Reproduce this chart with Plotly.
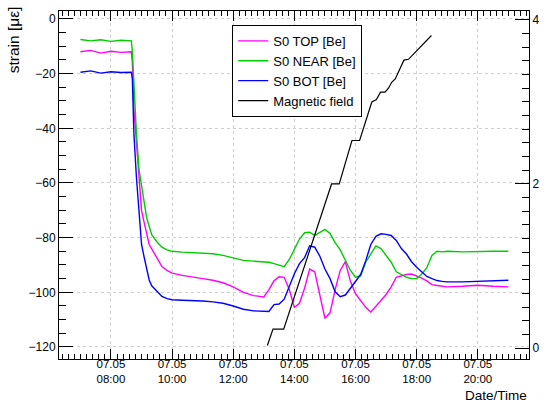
import plotly.graph_objects as go

DATE = "2016-05-07 "

# common sampling times (HH:MM) for the three strain gauges
times = ["07:00", "07:20", "07:40", "08:00", "08:20", "08:40",
         "08:42", "08:45", "08:50", "08:55", "09:00", "09:05", "09:10", "09:15", "09:20",
         "09:30", "09:40", "09:50", "10:00", "10:20", "10:40", "11:00", "11:20", "11:40",
         "12:00", "12:20", "12:40",
         "13:00", "13:10", "13:20", "13:30", "13:40", "13:50",
         "14:00", "14:10", "14:20", "14:30", "14:40", "14:50",
         "15:00", "15:10", "15:20", "15:30", "15:40", "15:50",
         "16:00", "16:10", "16:20", "16:30", "16:40", "16:50",
         "17:00", "17:10", "17:20", "17:30", "17:40", "17:50",
         "18:00", "18:10", "18:20", "18:30", "18:40", "18:50",
         "19:00", "19:30", "20:00", "20:30", "21:00"]

top = [-12, -11.5, -12.5, -11.8, -12.2, -12,
       -16, -33, -45, -57, -70, -74.3, -78.6, -82.5, -84.1,
       -87.3, -90.6, -92, -93, -93.8, -94.5, -95, -95.6, -96.5,
       -98, -100, -101.2,
       -101.7, -99.0, -95.8, -94.3, -94.5, -99.0,
       -105.5, -104.0, -98.5, -91.5, -92.5, -101.0,
       -109.5, -107.5, -99.0, -92.0, -88.8, -96.0,
       -100.5, -103.0, -105.5, -107.2, -105.2, -103.0,
       -100.8, -98.0, -94.5, -94.0, -93.5, -93.3,
       -94.0, -94.8, -95.8, -97.2, -97.5, -97.8,
       -98.0, -97.8, -97.4, -97.8, -98.0]

near = [-7.5, -8, -7.6, -8.2, -7.8, -8,
        -12, -25, -42, -55, -61.5, -67.5, -72.7, -75.9, -78.9,
        -81.5, -83.5, -84.5, -85, -85.3, -85.5, -85.6, -85.9, -86.5,
        -87.5, -88.3, -88.6,
        -88.8, -89.0, -89.5, -90.0, -90.6, -88.0,
        -84.5, -80.5, -78.2, -78.0, -79.2, -78.0,
        -77.0, -78.5, -81.8, -84.5, -88.5, -92.0,
        -94.5, -94.0, -89.0, -86.0, -83.0, -84.0,
        -86.5, -89.0, -92.5, -93.5, -94.5, -95.0,
        -95.0, -93.3, -91.0, -86.5, -85.0, -85.2,
        -85.0, -85.2, -85.0, -85.0, -85.0]

bot = [-19.5, -19, -19.8, -19.3, -19.6, -19.5,
       -22, -42, -58, -72, -82.5, -87, -91.6, -95.5, -97.6,
       -99.6, -101.5, -102.3, -102.7, -102.9, -103, -103.2, -103.5, -104,
       -105, -106.2, -106.8,
       -107.1, -107.0, -104.5, -104.3, -102.5, -98.0,
       -93.2, -89.5, -87.3, -83.0, -83.5, -86.8,
       -91.5, -95.0, -99.8, -101.6, -101.0, -98.5,
       -96.2, -93.5, -88.5, -82.5, -79.5, -78.6,
       -78.8, -79.2, -81.0, -84.0, -86.0, -88.8,
       -90.8, -92.5, -94.2, -95.0, -95.7, -96.0,
       -96.2, -96.2, -96.0, -95.6, -95.6]

mag_times = ["13:07", "13:18", "13:39", "15:13", "15:28", "15:53", "16:08", "16:32",
             "16:41", "16:49", "16:58", "17:05", "17:11", "17:18", "17:35", "17:44", "18:29"]
mag_field = [0.03, 0.23, 0.23, 2.0, 2.0, 2.53, 2.53, 3.0,
             3.03, 3.12, 3.12, 3.17, 3.24, 3.28, 3.51, 3.52, 3.81]

series = [("S0 TOP [Be]", top, "#ff00ff"),
          ("S0 NEAR [Be]", near, "#00cc00"),
          ("S0 BOT [Be]", bot, "#0000ff")]

fig = go.Figure()
for name, vals, col in series:
    fig.add_trace(go.Scatter(x=[DATE + t for t in times], y=vals, name=name, mode="lines",
                             line=dict(color=col, width=1.4)))
fig.add_trace(go.Scatter(x=[DATE + t for t in mag_times], y=mag_field, name="Magnetic field",
                         mode="lines", yaxis="y2", line=dict(color="black", width=1.2)))

grid = dict(showgrid=True, gridcolor="#cfcfcf", griddash="3px,3px", gridwidth=1)

fig.update_layout(
    width=549, height=402,
    margin=dict(l=59, r=16, t=10, b=43),
    paper_bgcolor="white", plot_bgcolor="white",
    font=dict(family="Liberation Sans, Arial, sans-serif", size=12, color="black"),
    showlegend=True,
    legend=dict(x=0.3686, y=0.96, xanchor="left", yanchor="top", bgcolor="white",
                bordercolor="black", borderwidth=1, font=dict(size=13),
                itemwidth=30, tracegroupgap=0),
    xaxis=dict(type="date", range=[DATE + "06:18:00", DATE + "21:40:30"],
               tick0=DATE + "00:00", dtick=7200000, tickformat="%d.%m<br>%H:%M",
               tickfont=dict(size=11.5),
               ticks="inside", ticklen=10, tickcolor="black", ticklabelstandoff=-6,
               showline=True, linecolor="black", linewidth=1, mirror="ticks",
               zeroline=False, **grid,
               minor=dict(dtick=720000, tick0=DATE + "00:00", ticks="inside", ticklen=5,
                          tickcolor="black", showgrid=False)),
    yaxis=dict(range=[-124.4, 2.92], tick0=0, dtick=20, ticks="inside", ticklen=14,
               tickcolor="black", showline=True, linecolor="black", linewidth=1, mirror=True,
               zeroline=False, **grid,
               minor=dict(dtick=5, ticks="inside", ticklen=7, tickcolor="black", showgrid=False)),
    yaxis2=dict(overlaying="y", side="right", range=[-0.134, 4.109], tick0=0, dtick=2,
                ticks="inside", ticklen=14, tickcolor="black", showline=True,
                linecolor="black", linewidth=1, showgrid=False, zeroline=False,
                minor=dict(dtick=1 / 6, ticks="inside", ticklen=7, tickcolor="black", showgrid=False)),
    annotations=[
        dict(text="strain [με]", xref="paper", yref="paper", x=-0.097, y=0.917,
             textangle=-90, xanchor="center", yanchor="middle", showarrow=False,
             font=dict(size=15.5)),
        dict(text="Date/Time", xref="paper", yref="paper", x=1.0, y=-0.104,
             xanchor="right", yanchor="middle", showarrow=False, font=dict(size=13.5)),
    ],
)

fig.write_html("out.html")
